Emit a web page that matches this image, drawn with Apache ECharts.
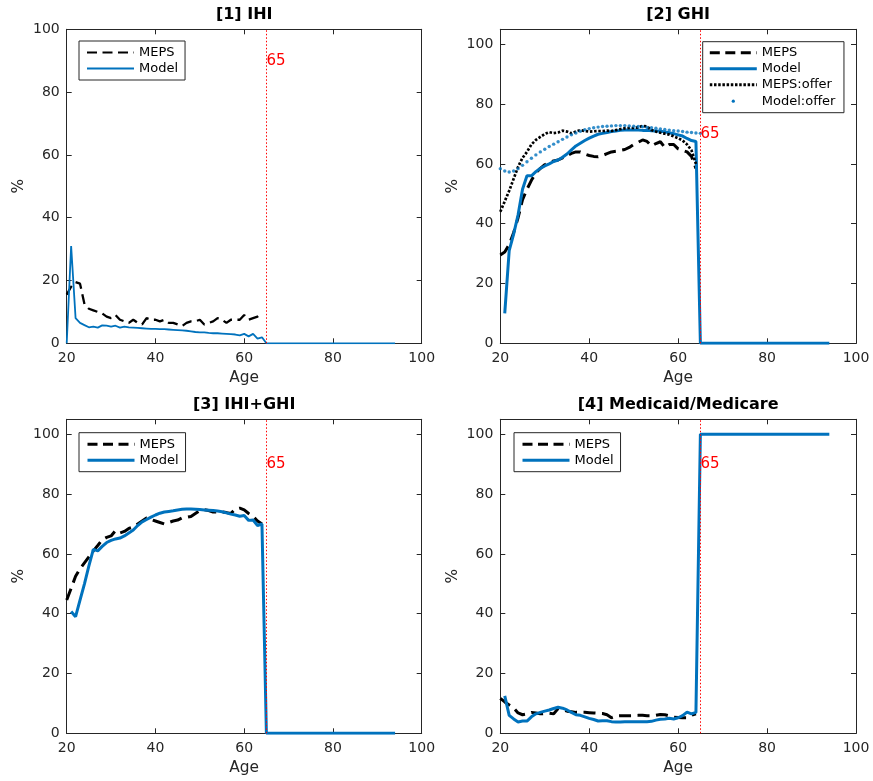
<!DOCTYPE html>
<html><head><meta charset="utf-8">
<script src="https://cdn.jsdelivr.net/npm/echarts@6/dist/echarts.min.js"></script>
<style>html,body{margin:0;padding:0;background:#fff}#c{width:873px;height:781px}</style>
</head><body><div id="c"></div>
<script>
// ---------------- DATA ----------------
const AGES = [20,21,22,23,24,25,26,27,28,29,30,31,32,33,34,35,36,37,38,39,40,41,42,43,44,45,46,47,48,49,50,51,52,53,54,55,56,57,58,59,60,61,62,63,64,65,66,67,68,69,70,71,72,73,74,75,76,77,78,79,80,81,82,83,84,85,86,87,88,89,90,91,92,93,94];
const X_TICKS = [20,40,60,80,100];
const Y_TICKS = [0,20,40,60,80,100];
const TITLES = ['[1] IHI','[2] GHI','[3] IHI+GHI','[4] Medicaid/Medicare'];
const CUTOFF_AGE = 65;
const CUTOFF_LABEL = '65';

// Panel 1: IHI (model ages 20-94, MEPS ages 20-64)
const IHI_MODEL = [0,31,8,6.5,5.8,5.1,5.3,5.0,5.7,5.6,5.3,5.6,5.0,5.3,5.1,5.0,4.9,4.8,4.7,4.6,4.6,4.5,4.5,4.4,4.3,4.2,4.1,4.0,3.8,3.6,3.5,3.5,3.3,3.2,3.2,3.1,3.0,2.9,2.8,2.5,3.0,2.2,3.0,1.5,1.9,
  0,0,0,0,0,0,0,0,0,0,0,0,0,0,0,0,0,0,0,0,0,0,0,0,0,0,0,0,0,0];
const IHI_MEPS = [15.5,18,19.5,19,12.5,11,10.5,10,9.5,8.5,8,9,7.5,7,6.5,7.5,6.5,6,8,7.5,7.5,7,7.5,6.5,6.5,6,5.5,6.5,7,7,7.5,6,6.5,7,8,7.5,6.5,7.5,7.5,7.5,9,7.5,8,8.5,9.5];

// Panel 2: GHI
const GHI_MODEL = [null,10,31,36.5,43,51.5,56,56,57.4,58.5,59.3,60,60.8,61.3,62.2,63.3,64.7,66,66.9,67.8,68.6,69.3,69.9,70.2,70.5,70.8,71,71.2,71.3,71.3,71.3,71.3,71.2,71.2,71.1,71.0,70.9,70.7,70.4,70.1,69.7,69.3,68.5,67.8,67.5,
  0,0,0,0,0,0,0,0,0,0,0,0,0,0,0,0,0,0,0,0,0,0,0,0,0,0,0,0,0,0];
const GHI_MEPS = [29.5,30.5,33,37,42,48,51.5,54.5,57,58.5,59.7,60.5,61,61.3,62,62.8,63.5,64,64,63.3,62.8,62.5,62.4,62.8,63.4,64,64.2,64.5,64.8,65.5,66.5,67.2,68,67.5,66,66.8,67.4,65.5,66.5,66.5,65,64.5,64,62.5,58.5];
const GHI_MEPS_OFFER = [44,47.5,51,55,59,62,64,66.5,68,69,70,70.6,70.3,70.5,71.1,70.8,70.2,70.8,71.3,71,70.8,70.9,71,71,71.1,71,71.3,71.6,71.9,72,72,72.2,72.7,72.5,71.3,70.8,70.4,70.1,69.8,69.2,68.6,67.8,66.5,64.5,60];
const GHI_MODEL_OFFER = [58.4,57.6,57.3,57.6,58.4,59.5,60.7,61.9,63,64,64.9,65.8,66.6,67.4,68.2,69,69.7,70.3,70.9,71.4,71.8,72.1,72.3,72.5,72.6,72.7,72.8,72.8,72.8,72.7,72.6,72.5,72.4,72.2,72.1,71.9,71.7,71.5,71.3,71.1,71.0,70.8,70.6,70.5,70.3,70.2];

// Panel 3: IHI+GHI
const TOT_MODEL = [null,40.7,39,44.5,50,56,61.5,61,62.5,63.8,64.5,65,65.3,66,67,68,69.5,70.7,71.5,72.3,73,73.6,74,74.2,74.4,74.7,74.9,75,75,74.9,74.8,74.7,74.6,74.5,74.3,74.1,73.7,73.3,73,72.6,72.8,71.2,71.3,69.5,70,
  0,0,0,0,0,0,0,0,0,0,0,0,0,0,0,0,0,0,0,0,0,0,0,0,0,0,0,0,0,0];
const TOT_MEPS = [44.6,48.5,52.5,55,57,59,61,62.8,64.7,65.5,66,67.8,67,67.5,68.5,69,70,71,72,71.5,71,70.5,70,70.5,71,71.3,72,72.2,72.5,73.5,74.5,74.8,74.5,74,74,74,73.8,73.5,75,75.3,74.7,73.5,72.5,71,70];

// Panel 4: Medicaid/Medicare
const MED_MODEL = [null,12.5,6,4.8,3.8,4.1,4.1,5.5,6.5,7,7.4,7.8,8.3,8.7,8.4,7.8,7,6.2,6.0,5.5,5,4.6,4.1,4.2,4.2,3.9,3.8,3.8,3.9,3.9,3.9,3.9,3.9,3.9,4,4.4,4.7,4.8,5,4.8,5.2,5.9,7.1,6.5,7,
  100,100,100,100,100,100,100,100,100,100,100,100,100,100,100,100,100,100,100,100,100,100,100,100,100,100,100,100,100,100];
const MED_MEPS = [11.7,10.5,9.5,8.5,6.8,6.2,6.5,7,6.8,6.5,6.6,6.7,6.5,8.3,7.8,7.4,7.2,7,7,7,6.9,6.8,6.7,6.6,6.2,5.2,5.8,5.9,5.9,5.9,5.9,6,6,5.9,5.9,6,6.3,6.2,5.8,5.4,5.3,5.2,5.2,6,6.5];

// ---------------- STYLE / LAYOUT ----------------
const BLUE = '#0072BD';
const AX = '#262626';
const FONT = 'DejaVu Sans';
const GRIDS = [
  {left: 66.7, top: 29.3, width: 355, height: 314},
  {left: 500.3, top: 29.3, width: 355.7, height: 314},
  {left: 66.7, top: 419.3, width: 355, height: 314},
  {left: 500.3, top: 419.3, width: 355.7, height: 314}
];
const Y_MAX = [100, 105, 105, 105];
const LABEL_Y = [90, 70, 90, 90];
const LW_MODEL = [1.8, 3, 3, 3];
const LW_MEPS = [2.3, 3, 3, 3];
const DASHES = [[10, 5.5], [12, 6.5], [12, 6.5], [12, 6.5]];
const DOT = [2.5, 1.7];

function zip(vals) {
  return vals.map((v, k) => [AGES[k], v]).filter(d => d[1] !== null);
}

const xAxes = [], yAxes = [], series = [], titles = [], legends = [];

GRIDS.forEach((g, p) => {
  const common = {
    type: 'value', gridIndex: p, min: X_TICKS[0], max: X_TICKS[X_TICKS.length - 1],
    interval: X_TICKS[1] - X_TICKS[0],
    axisLine: {show: true, onZero: false, lineStyle: {color: AX, width: 1}},
    axisTick: {show: true, inside: true, length: 5, lineStyle: {color: AX, width: 1}},
    splitLine: {show: false}
  };
  xAxes.push(Object.assign({}, common, {
    position: 'bottom',
    axisLabel: {color: AX, fontSize: 14, fontFamily: FONT, margin: 8},
    name: 'Age', nameLocation: 'middle', nameGap: 27,
    nameTextStyle: {color: AX, fontSize: 15.4, fontFamily: FONT}
  }));
  xAxes.push(Object.assign({}, common, {position: 'top', axisLabel: {show: false}}));
  const ycommon = {
    type: 'value', gridIndex: p, min: Y_TICKS[0], max: Y_MAX[p], interval: Y_TICKS[1] - Y_TICKS[0],
    axisLine: {show: true, onZero: false, lineStyle: {color: AX, width: 1}},
    axisTick: {show: true, inside: true, length: 5, lineStyle: {color: AX, width: 1}},
    splitLine: {show: false}
  };
  yAxes.push(Object.assign({}, ycommon, {
    position: 'left',
    axisLabel: {color: AX, fontSize: 14, fontFamily: FONT, margin: 7,
      formatter: v => (Y_TICKS.indexOf(v) >= 0 ? String(v) : '')},
    name: '%', nameLocation: 'middle', nameGap: 40,
    nameTextStyle: {color: AX, fontSize: 15.4, fontFamily: FONT}
  }));
  yAxes.push(Object.assign({}, ycommon, {position: 'right', axisLabel: {show: false}}));

  titles.push({
    text: TITLES[p], left: g.left + g.width / 2, top: g.top - 22, textAlign: 'center', padding: 0,
    textStyle: {fontSize: 16, fontWeight: 'bold', color: '#000', fontFamily: FONT}
  });
});

function line(p, name, vals, color, type, width) {
  return {
    type: 'line', name, xAxisIndex: p * 2, yAxisIndex: p * 2, data: zip(vals),
    symbol: 'none', showSymbol: false, animation: false, silent: true,
    itemStyle: {color}, lineStyle: {color, type, width}
  };
}
function cutoff(s, p) {
  s.markLine = {
    silent: true, symbol: ['none', 'none'], animation: false,
    lineStyle: {color: '#ff0000', type: [1.5, 2], width: 1},
    label: {show: false},
    data: [{xAxis: CUTOFF_AGE}]
  };
  s.markPoint = {
    silent: true, animation: false, symbol: 'circle', symbolSize: 0,
    label: {show: true, position: 'right', distance: 0, formatter: CUTOFF_LABEL,
      color: '#ff0000', fontSize: 15, fontFamily: FONT},
    data: [{coord: [CUTOFF_AGE, LABEL_Y[p]]}]
  };
  return s;
}

const PANELS = [
  {meps: IHI_MEPS, model: IHI_MODEL},
  {meps: GHI_MEPS, model: GHI_MODEL},
  {meps: TOT_MEPS, model: TOT_MODEL},
  {meps: MED_MEPS, model: MED_MODEL}
];
PANELS.forEach((d, p) => {
  series.push(line(p, 'MEPS', d.meps, '#000', DASHES[p], LW_MEPS[p]));
  series.push(cutoff(line(p, 'Model', d.model, BLUE, 'solid', LW_MODEL[p]), p));
  if (p === 1) {
    series.push(line(p, 'MEPS:offer', GHI_MEPS_OFFER, '#000', DOT, 2.7));
    series.push({
      type: 'scatter', name: 'Model:offer', xAxisIndex: 2, yAxisIndex: 2,
      data: zip(GHI_MODEL_OFFER), symbol: 'circle', symbolSize: 3.4,
      itemStyle: {color: BLUE}, animation: false, silent: true, z: 3
    });
  }
});

const DOT_ICON = 'path://M0 0M47 14M21.9 7a1.6 1.6 0 1 0 3.2 0a1.6 1.6 0 1 0 -3.2 0Z';
function legend(left, top, data, padding, lw) {
  return {
    show: true, orient: 'vertical', left, top, padding, itemGap: 3, itemWidth: 47, itemHeight: 14,
    data, selectedMode: false, borderColor: AX, borderWidth: 1, backgroundColor: '#fff', borderRadius: 0,
    textStyle: {fontSize: 13, color: '#000', fontFamily: FONT},
    itemStyle: {opacity: 0}, lineStyle: {width: lw}
  };
}
legends.push(legend(79, 41, ['MEPS', 'Model'], [5, 7, 5, 7], 2));
legends.push(legend(702.7, 41.7, ['MEPS', 'Model', 'MEPS:offer',
  {name: 'Model:offer', icon: DOT_ICON, itemStyle: {opacity: 1}}], [4.5, 8.5, 4.5, 5.6], 3));
legends.push(legend(79, 432.7, ['MEPS', 'Model'], [5, 7, 5, 7], 3));
legends.push(legend(514, 432.7, ['MEPS', 'Model'], [5, 7, 5, 7], 3));

const chart = echarts.init(document.getElementById('c'), null, {renderer: 'canvas'});
chart.setOption({
  animation: false,
  backgroundColor: '#fff',
  textStyle: {fontFamily: FONT},
  title: titles,
  legend: legends,
  grid: GRIDS,
  xAxis: xAxes,
  yAxis: yAxes,
  series
});
</script></body></html>
